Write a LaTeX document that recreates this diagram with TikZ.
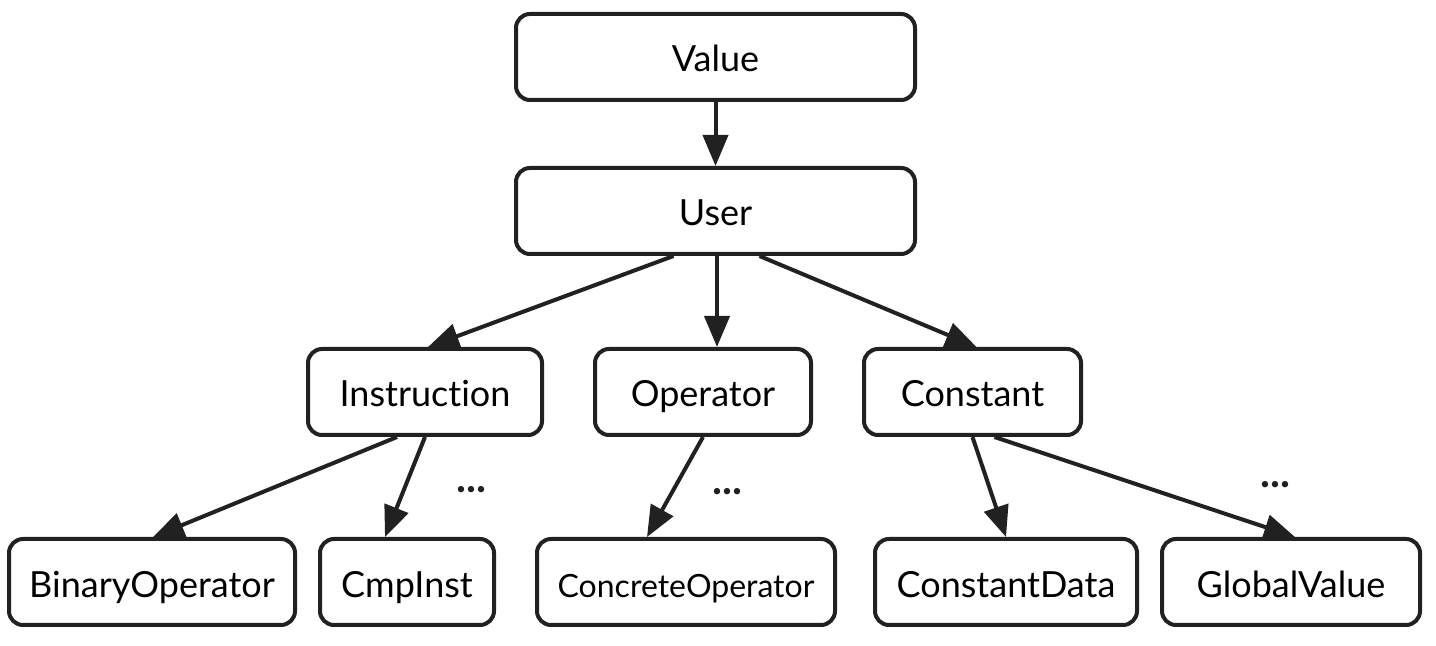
\documentclass[tikz,border=0pt]{standalone}
\usepackage{fontspec}
\setmainfont{Lato}[Ligatures=NoCommon]
\usetikzlibrary{arrows.meta}

\tikzset{
    klasse/.style={draw=black!87, line width=2pt, rounded corners=7pt, minimum height=43pt, inner sep=0pt,
        text height=15pt, text depth=0pt, font=\fontsize{18}{21}\selectfont},
    pfeil/.style={-{Triangle[length=15.5pt, width=12.5pt]}, line width=2pt, draw=black!87},
    punkte/.style={font=\bfseries\fontsize{21}{24}\selectfont, inner sep=0pt, anchor=base, text=black!87}
}

\begin{document}
\begin{tikzpicture}[x=0.5pt, y=-0.5pt]
    \useasboundingbox (0,0) rectangle (1436,646);

    % Knoten.
    \node[klasse, minimum width=199.5pt] (value) at (715.5,57) {Value};
    \node[klasse, minimum width=199.5pt] (user) at (715.5,211) {User};

    \node[klasse, minimum width=117pt] (instr) at (425,392) {Instruction};
    \node[klasse, minimum width=108pt] (oper) at (703,392) {Operator};
    \node[klasse, minimum width=108.5pt] (const) at (972.5,392) {Constant};

    \node[klasse, minimum width=143pt] (binop) at (152,582) {BinaryOperator};
    \node[klasse, minimum width=87pt] (cmp) at (407,582) {CmpInst};
    \node[klasse, minimum width=149pt, font=\fontsize{16}{19}\selectfont] (conc) at (686,582) {ConcreteOperator};
    \node[klasse, minimum width=131pt] (cdata) at (1006,582) {ConstantData};
    \node[klasse, minimum width=129pt] (gval) at (1291,582) {GlobalValue};

    % Punkte.
    \node[punkte] (dotsinstr) at (471,493) {...};
    \node[punkte] (dotsoper) at (727,495) {...};
    \node[punkte] (dotsconst) at (1275,488) {...};

    % Pfeile.
    \draw[pfeil] (value) -- (user);
    \foreach \von/\sv/\nach/\sn in {user/-21/instr/1.5, user/0.75/oper/7, user/22/const/2,
        instr/-14/binop/0.5, instr/0/cmp/-11, oper/0/conc/-19.5,
        const/0/cdata/0, const/11/gval/2}
    {
        \draw[pfeil] ([xshift=\sv pt]\von.south) -- ([xshift=\sn pt]\nach.north);
    }
\end{tikzpicture}
\end{document}
